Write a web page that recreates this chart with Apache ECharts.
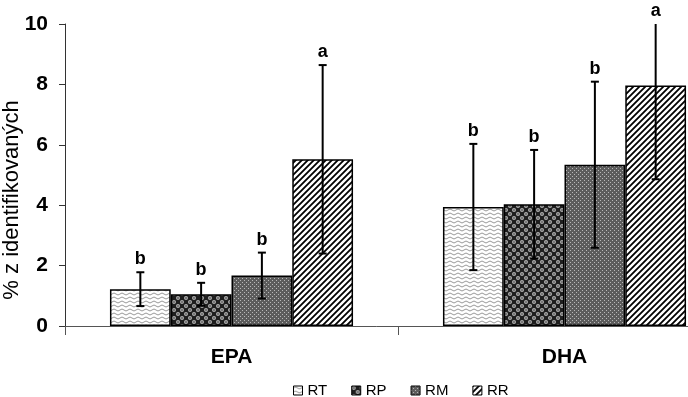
<!DOCTYPE html>
<html>
<head>
<meta charset="utf-8">
<script src="https://cdn.jsdelivr.net/npm/echarts@6/dist/echarts.min.js"></script>
<style>
  html, body { margin: 0; padding: 0; background: #fff; }
  #chart { width: 688px; height: 397px; }
</style>
</head>
<body>
<div id="chart"></div>
<script>
  // data
  const categories = ['EPA', 'DHA'];
  const seriesNames = ['RT', 'RP', 'RM', 'RR'];
  const meanRT = [1.22, 3.94];
  const meanRP = [1.05, 4.03];
  const meanRM = [1.67, 5.34];
  const meanRR = [5.52, 7.96];
  const sdRT = [0.56, 2.09];
  const sdRP = [0.38, 1.80];
  const sdRM = [0.76, 2.75];
  const sdRR = [3.12, 3.10];
  const lettersRT = ['b', 'b'];
  const lettersRP = ['b', 'b'];
  const lettersRM = ['b', 'b'];
  const lettersRR = ['a', 'a'];
  const yTicks = [0, 2, 4, 6, 8, 10];

  const means = [meanRT, meanRP, meanRM, meanRR];
  const sds = [sdRT, sdRP, sdRM, sdRR];
  const letters = [lettersRT, lettersRP, lettersRM, lettersRR];
  const yMax = yTicks[yTicks.length - 1];

  // fill patterns
  function tile(w, h, draw) {
    const c = document.createElement('canvas');
    c.width = w; c.height = h;
    draw(c.getContext('2d'));
    return { image: c, repeat: 'repeat' };
  }
  const patterns = [
    tile(8, 4, function (g) {
      g.fillStyle = '#fff'; g.fillRect(0, 0, 8, 4);
      g.strokeStyle = '#999'; g.lineWidth = 1;
      g.beginPath(); g.moveTo(0, 2);
      g.quadraticCurveTo(2, 0, 4, 2); g.quadraticCurveTo(6, 4, 8, 2);
      g.stroke();
    }),
    tile(8, 8, function (g) {
      g.fillStyle = '#1e1e1e'; g.fillRect(0, 0, 8, 8);
      g.fillStyle = '#b0b0b0';
      [[2, 2], [6, 6]].forEach(function (p) {
        g.beginPath(); g.arc(p[0], p[1], 2, 0, Math.PI * 2); g.fill();
      });
      g.fillStyle = '#333';
      [[2, 2], [6, 6]].forEach(function (p) {
        g.beginPath(); g.arc(p[0], p[1], 0.8, 0, Math.PI * 2); g.fill();
      });
    }),
    tile(4, 4, function (g) {
      g.fillStyle = '#5c5c5c'; g.fillRect(0, 0, 4, 4);
      g.fillStyle = '#b8b8b8';
      g.fillRect(0, 0, 1, 1); g.fillRect(2, 2, 1, 1);
    }),
    tile(6, 6, function (g) {
      g.fillStyle = '#fff'; g.fillRect(0, 0, 6, 6);
      g.strokeStyle = '#000'; g.lineWidth = 1.8;
      g.beginPath();
      g.moveTo(-1, 7); g.lineTo(7, -1);
      g.moveTo(-1, 1); g.lineTo(1, -1);
      g.moveTo(5, 7); g.lineTo(7, 5);
      g.stroke();
    })
  ];

  const gapRatio = 0.27;

  const barSeries = seriesNames.map(function (name, i) {
    return {
      name: name,
      type: 'bar',
      data: means[i],
      barGap: '0%',
      barCategoryGap: (gapRatio * 100) + '%',
      itemStyle: { color: patterns[i], borderColor: '#000', borderWidth: 1.5 },
      z: 2
    };
  });

  const errData = [];
  seriesNames.forEach(function (name, i) {
    categories.forEach(function (c, j) {
      errData.push([j, means[i][j] - sds[i][j], means[i][j] + sds[i][j], i, letters[i][j]]);
    });
  });

  function offsetX(api, idx) {
    const band = api.size([1, 0])[0];
    const bw = band * (1 - gapRatio) / seriesNames.length;
    return (idx - (seriesNames.length - 1) / 2) * bw;
  }

  let myChart = echarts.init(document.getElementById('chart'));
  let option = {
    animation: false,
    textStyle: { fontFamily: 'Liberation Sans, Arial, sans-serif' },
    grid: { left: 65, width: 666, top: 24, height: 302, outerBoundsMode: 'none', containLabel: false },
    legend: {
      data: seriesNames,
      icon: 'rect',
      left: 293,
      top: 383,
      padding: 0,
      itemWidth: 9,
      itemHeight: 9,
      itemGap: 24,
      textStyle: { fontSize: 15, color: '#000', padding: [0, 0, 0, 0] },
      itemStyle: { borderColor: '#000', borderWidth: 1 }
    },
    xAxis: {
      type: 'category',
      data: categories,
      axisLine: { lineStyle: { color: '#555', width: 1 } },
      axisTick: { show: true, length: 9, lineStyle: { color: '#555' } },
      axisLabel: { fontSize: 21, fontWeight: 'bold', color: '#000', margin: 21 }
    },
    yAxis: {
      type: 'value',
      min: 0,
      max: yMax,
      interval: 2,
      axisLine: { show: true, lineStyle: { color: '#333', width: 1 } },
      axisTick: { show: true, length: 6, lineStyle: { color: '#333' } },
      axisLabel: { fontSize: 21, fontWeight: 'bold', color: '#000', margin: 17 },
      splitLine: { show: false }
    },
    graphic: [{
      type: 'text',
      x: 12,
      y: 200,
      rotation: Math.PI / 2,
      style: {
        text: '% z identifikovaných',
        font: '22px Liberation Sans, Arial, sans-serif',
        fill: '#000',
        textAlign: 'center',
        textVerticalAlign: 'middle'
      }
    }],
    series: barSeries.concat([
      {
        type: 'custom',
        name: 'err',
        data: errData,
        z: 5,
        clip: true,
        renderItem: function (params, api) {
          const idx = api.value(3);
          const dx = offsetX(api, idx);
          const lo = api.coord([api.value(0), api.value(1)]);
          const hi = api.coord([api.value(0), api.value(2)]);
          const x = lo[0] + dx;
          const cap = 4;
          return {
            type: 'group',
            children: [
              { type: 'line', shape: { x1: x, y1: lo[1], x2: x, y2: hi[1] }, style: { stroke: '#000', lineWidth: 2 } },
              { type: 'line', shape: { x1: x - cap, y1: lo[1], x2: x + cap, y2: lo[1] }, style: { stroke: '#000', lineWidth: 2 } },
              { type: 'line', shape: { x1: x - cap, y1: hi[1], x2: x + cap, y2: hi[1] }, style: { stroke: '#000', lineWidth: 2 } }
            ]
          };
        }
      },
      {
        type: 'custom',
        name: 'letters',
        data: errData,
        z: 6,
        clip: false,
        renderItem: function (params, api) {
          const idx = api.value(3);
          const dx = offsetX(api, idx);
          const hi = api.coord([api.value(0), Math.min(api.value(2), yMax)]);
          return {
            type: 'text',
            x: hi[0] + dx,
            y: hi[1] - 13,
            style: {
              text: errData[params.dataIndex][4],
              font: 'bold 18px Liberation Sans, Arial, sans-serif',
              fill: '#000',
              textAlign: 'center',
              textVerticalAlign: 'middle'
            }
          };
        }
      }
    ])
  };
  myChart.setOption(option);
</script>
</body>
</html>
